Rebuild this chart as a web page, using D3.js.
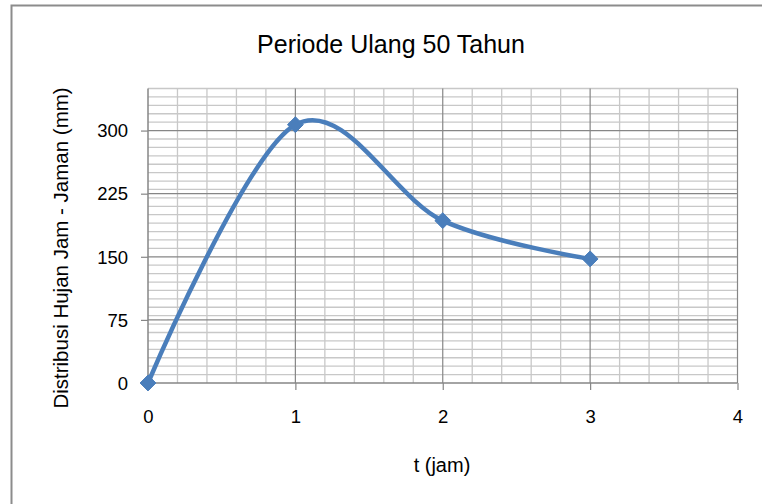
<!DOCTYPE html>
<html>
<head>
<meta charset="utf-8">
<script src="https://cdn.jsdelivr.net/npm/d3@7"></script>
<style>
  html, body { margin: 0; padding: 0; background: #fff; }
  svg { display: block; font-family: "Liberation Sans", Arial, sans-serif; }
</style>
</head>
<body>
<svg id="chart" width="762" height="504"></svg>
<script>
// Rainfall distribution, 50-year return period
const hours = [0, 1, 2, 3];
const rainfall = [0, 307, 193, 147.5];
const xTicks = [0, 1, 2, 3, 4];
const yTicks = [0, 75, 150, 225, 300];

const title = "Periode Ulang 50 Tahun";
const xTitle = "t (jam)";
const yTitle = "Distribusi Hujan Jam - Jaman (mm)";

const svg = d3.select("#chart");
const W = 762, H = 504;
const plot = { left: 148, right: 737.5, top: 88.5, bottom: 383 };

const x = d3.scaleLinear().domain([0, 4]).range([plot.left, plot.right]);
const y = d3.scaleLinear().domain([0, 350]).range([plot.bottom, plot.top]);

// chart-area frame (right and bottom edges run past the page)
svg.append("rect")
  .attr("x", 11.5).attr("y", 5.5)
  .attr("width", W + 20).attr("height", H + 20)
  .attr("fill", "#fff").attr("stroke", "#8c8c8c").attr("stroke-width", 2);

const g = svg.append("g");

// minor gridlines
const yMinor = d3.range(10, 351, 10).filter(v => v % 75 !== 0);
g.append("g").selectAll("line").data(yMinor).join("line")
  .attr("x1", plot.left).attr("x2", plot.right)
  .attr("y1", d => y(d)).attr("y2", d => y(d))
  .attr("stroke", "#c8c8c8").attr("stroke-width", 1.3);

const xMinor = d3.range(0.2, 4, 0.2).filter(v => Math.abs(v - Math.round(v)) > 1e-6);
g.append("g").selectAll("line").data(xMinor).join("line")
  .attr("y1", plot.top).attr("y2", plot.bottom)
  .attr("x1", d => x(d)).attr("x2", d => x(d))
  .attr("stroke", "#c8c8c8").attr("stroke-width", 1.3);

// major gridlines
g.append("g").selectAll("line").data(yTicks.filter(v => v > 0)).join("line")
  .attr("x1", plot.left).attr("x2", plot.right)
  .attr("y1", d => y(d)).attr("y2", d => y(d))
  .attr("stroke", "#868686").attr("stroke-width", 1.2);

g.append("g").selectAll("line").data(xTicks.filter(v => v > 0)).join("line")
  .attr("y1", plot.top).attr("y2", plot.bottom)
  .attr("x1", d => x(d)).attr("x2", d => x(d))
  .attr("stroke", "#868686").attr("stroke-width", 1.2);

// axes
const yAxis = d3.axisLeft(y).tickValues(yTicks).tickSize(7).tickPadding(13).tickFormat(d3.format("d"));
const xAxis = d3.axisBottom(x).tickValues(xTicks).tickSize(7).tickPadding(24).tickFormat(d3.format("d"));

const ya = g.append("g").attr("transform", `translate(${plot.left},0)`).call(yAxis);
const xa = g.append("g").attr("transform", `translate(0,${plot.bottom})`).call(xAxis);
[ya, xa].forEach(a => {
  a.attr("font-size", null).attr("font-family", null);
  a.select(".domain").attr("stroke", "#868686").attr("stroke-width", 1.5);
  a.selectAll(".tick line").attr("stroke", "#868686").attr("stroke-width", 1.2);
  a.selectAll(".tick text").attr("fill", "#000")
    .style("font-family", "'Liberation Sans', Arial, sans-serif").style("font-size", "18.5px");
});
ya.selectAll(".tick text").attr("dy", "0.34em");
xa.selectAll(".tick text").attr("dy", "0.5em");
ya.select(".domain").attr("d", `M0,${plot.top}V${plot.bottom}`);
xa.select(".domain").attr("d", `M${plot.left},0H${plot.right}`);

// smoothed series line
const pts = hours.map((h, i) => [h, rainfall[i]]);
const line = d3.line().x(d => x(d[0])).y(d => y(d[1])).curve(d3.curveCatmullRom.alpha(0));
g.append("path").datum(pts)
  .attr("d", line).attr("fill", "none")
  .attr("stroke", "#4a7ebb").attr("stroke-width", 4.5)
  .attr("stroke-linejoin", "round").attr("stroke-linecap", "round");

// diamond markers
const diamond = d3.symbol().type(d3.symbolDiamond2).size(160);
g.append("g").selectAll("path").data(pts).join("path")
  .attr("transform", d => `translate(${x(d[0])},${y(d[1])})`)
  .attr("d", diamond)
  .attr("fill", "#4a7ebb").attr("stroke", "#4a7ebb").attr("stroke-width", 1);

// titles
svg.append("text").attr("x", 391).attr("y", 53).attr("text-anchor", "middle")
  .style("font-size", "25px").attr("fill", "#000").text(title);

svg.append("text").attr("x", 442).attr("y", 472).attr("text-anchor", "middle")
  .style("font-size", "20px").attr("fill", "#000").text(xTitle);

svg.append("text")
  .attr("transform", `translate(68,248) rotate(-90)`)
  .attr("text-anchor", "middle")
  .style("font-size", "20.5px").attr("fill", "#000").text(yTitle);
</script>
</body>
</html>
